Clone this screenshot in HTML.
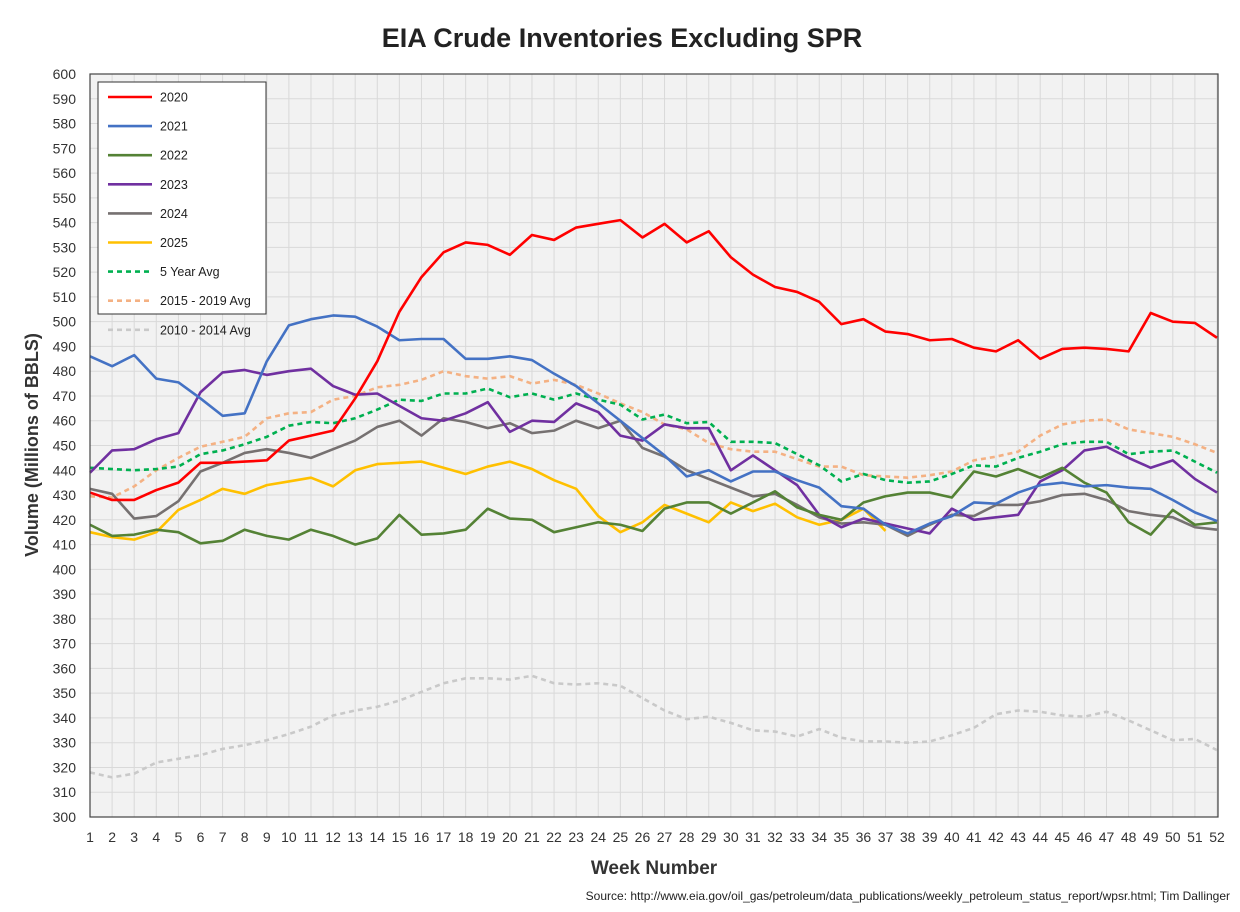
<!DOCTYPE html>
<html><head><meta charset="utf-8"><style>
body{margin:0;background:#fff;}
svg text{font-family:"Liberation Sans",Arial,sans-serif;}
</style></head><body>
<svg id="chart" width="1240" height="907" xmlns="http://www.w3.org/2000/svg">
<rect x="0" y="0" width="1240" height="907" fill="#fff"/>
<text x="622" y="47" text-anchor="middle" font-size="27" font-weight="bold" fill="#222">EIA Crude Inventories Excluding SPR</text>
<rect x="90" y="74" width="1128" height="743" fill="#f2f2f2"/>
<g id="grid"></g>
<g id="series"></g>
<rect x="90" y="74" width="1128" height="743" fill="none" stroke="#444" stroke-width="1.2"/>
<g id="yticks"></g><g id="xticks"></g>
<text transform="translate(38,445) rotate(-90)" text-anchor="middle" font-size="18" font-weight="bold" fill="#333">Volume (Millions of BBLS)</text>
<text x="654" y="874" text-anchor="middle" font-size="19" font-weight="bold" fill="#333">Week Number</text>
<text x="1230" y="900" text-anchor="end" font-size="12" fill="#222">Source: http://www.eia.gov/oil_gas/petroleum/data_publications/weekly_petroleum_status_report/wpsr.html; Tim Dallinger</text>
<g id="legend"><rect x="98" y="82" width="168" height="232" fill="#fff" stroke="#333" stroke-width="1"/></g>
</svg>
<script>
const weeks = Array.from({length:52},(_,i)=>i+1);
const yTicks = [300,310,320,330,340,350,360,370,380,390,400,410,420,430,440,450,460,470,480,490,500,510,520,530,540,550,560,570,580,590,600];
const s2020=[431,428,428,432,435,443,443,443.5,444,452,454,456,469,484,504,518,528,532,531,527,535,533,538,539.5,541,534,539.5,532,536.5,526,519,514,512,508,499,501,496,495,492.5,493,489.5,488,492.5,485,489,489.5,489,488,503.5,500,499.5,493.5];
const s2021=[486,482,486.5,477,475.5,469,462,463,484,498.5,501,502.5,502,498,492.5,493,493,485,485,486,484.5,479,474,467,460,453,446,437.5,440,435.5,439.5,439.5,436,433,425.5,424.5,418,414.5,418.5,421.5,427,426.5,431,434,435,433.5,434,433,432.5,428,423,419.5];
const s2022=[418,413.5,414,416,415,410.5,411.5,416,413.5,412,416,413.5,410,412.5,422,414,414.5,416,424.5,420.5,420,415,417,419,418,415.5,424.5,427,427,422.5,427,431.5,425,422,420,427,429.5,431,431,429,439.5,437.5,440.5,437,441,435,431,419,414,424,418,419];
const s2023=[439,448,448.5,452.5,455,471.5,479.5,480.5,478.5,480,481,474,470.5,471,466,461,460,463,467.5,455.5,460,459.5,467,463.5,454,452,458.5,457,457,440,446,440,434,422,417,420.5,418.5,416.5,414.5,424.5,420,421,422,435.5,440,448,449.5,445,441,444,436.5,431];
const s2024=[432.5,430.5,420.5,421.5,427.5,439.5,443,447,448.5,447,445,448.5,452,457.5,460,454,461,459.5,457,459,455,456,460,457,460,449,445.5,440,436.5,433,429.5,430.5,426,421,418.5,419,418,413.5,418,422,421.5,426,426,427.5,430,430.5,428,423.5,422,421,417,416];
const s2025=[415,413,412,415,424,428,432.5,430.5,434,435.5,437,433.5,440,442.5,443,443.5,441,438.5,441.5,443.5,440.5,436,432.5,421.5,415,419,426,422.5,419,427,423.5,426.5,421,418,420,424.5,415.5];
const avg5=[441,440.5,440,440.5,441.5,446.5,448,450.5,453.5,458,459.5,459,461,464.5,468.5,468,471,471,473,469.5,471,468.5,471,468.5,466.5,460.5,462.5,459,459.5,451.5,451.5,451,446.5,442,435.5,438.5,436,435,435.5,438.5,442,441.5,445,447.5,450.5,451.5,451.5,446.5,447.5,448,443.5,439];
const avg1519=[429.5,429,433.5,440,445,449.5,451.5,453.5,461,463,463.5,468.5,470,473.5,474.5,476.5,480,478,477,478,475,476.5,474.5,471,467,463.5,458.5,456.5,451,448.5,447.5,447.5,444.5,441.5,441.5,438,437.5,437,438,439.5,444,445.5,447.5,454,458.5,460,460.5,456.5,455,453.5,450.5,447];
const avg1014=[318,316,317.5,322,323.5,325,327.5,329,331,333.5,336.5,341,343,344.5,347,350.5,354,356,356,355.5,357,354,353.5,354,353,348,343,339.5,340.5,338,335,334.5,332.5,335.5,332,330.5,330.5,330,330.5,333,336,341.5,343,342.5,341,340.5,342.5,339,335,331,331.5,327];
const seriesNames=["2020","2021","2022","2023","2024","2025","5 Year Avg","2015 - 2019 Avg","2010 - 2014 Avg"];
const seriesData=[s2020,s2021,s2022,s2023,s2024,s2025,avg5,avg1519,avg1014];
const styles=[["#ff0000",""],["#4472c4",""],["#548235",""],["#7030a0",""],["#767171",""],["#ffc000",""],["#00b050","5,4"],["#f4b183","5,4"],["#c9c9c9","5,4"]];
const NS="http://www.w3.org/2000/svg";
const X=w=>90+(w-1)*(1127/51);
const Y=v=>817-(v-300)*(743/300);
function mk(tag,attrs,parent){const e=document.createElementNS(NS,tag);for(const k in attrs)e.setAttribute(k,attrs[k]);document.getElementById(parent).appendChild(e);return e;}
yTicks.forEach(t=>{
  const l=mk('line',{x1:90,x2:1218,y1:Y(t),y2:Y(t),stroke:'#d9d9d9','stroke-width':1},'grid');
  
  
  const tx=mk('text',{x:76,y:Y(t)+5,'text-anchor':'end','font-size':14,fill:'#333'},'yticks');
  tx.textContent=t;
  
  
});
weeks.forEach(w=>{
  const l=mk('line',{x1:X(w),x2:X(w),y1:74,y2:817,stroke:'#d9d9d9','stroke-width':1},'grid');
  
  
  const tx=mk('text',{x:X(w),y:842,'text-anchor':'middle','font-size':14,fill:'#333'},'xticks');
  tx.textContent=w;
  
  
});
for(let i=seriesData.length-1;i>=0;i--){
  const d=seriesData[i];
  const p=mk('polyline',{points:d.map((v,j)=>X(weeks[j])+','+Y(v)).join(' '),fill:'none',stroke:styles[i][0],'stroke-width':2.6,'stroke-dasharray':styles[i][1],'stroke-linejoin':'round'},'series');
  
  
}
seriesNames.forEach((n,i)=>{
  const y=97+i*29.1;
  const l=mk('line',{x1:108,x2:152,y1:y,y2:y,stroke:styles[i][0],'stroke-width':2.6,'stroke-dasharray':styles[i][1]},'legend');
  
  
  const t=mk('text',{x:160,y:y+4.5,'font-size':12.5,fill:'#222'},'legend');
  t.textContent=n;
  
  
});
</script>
</body></html>
